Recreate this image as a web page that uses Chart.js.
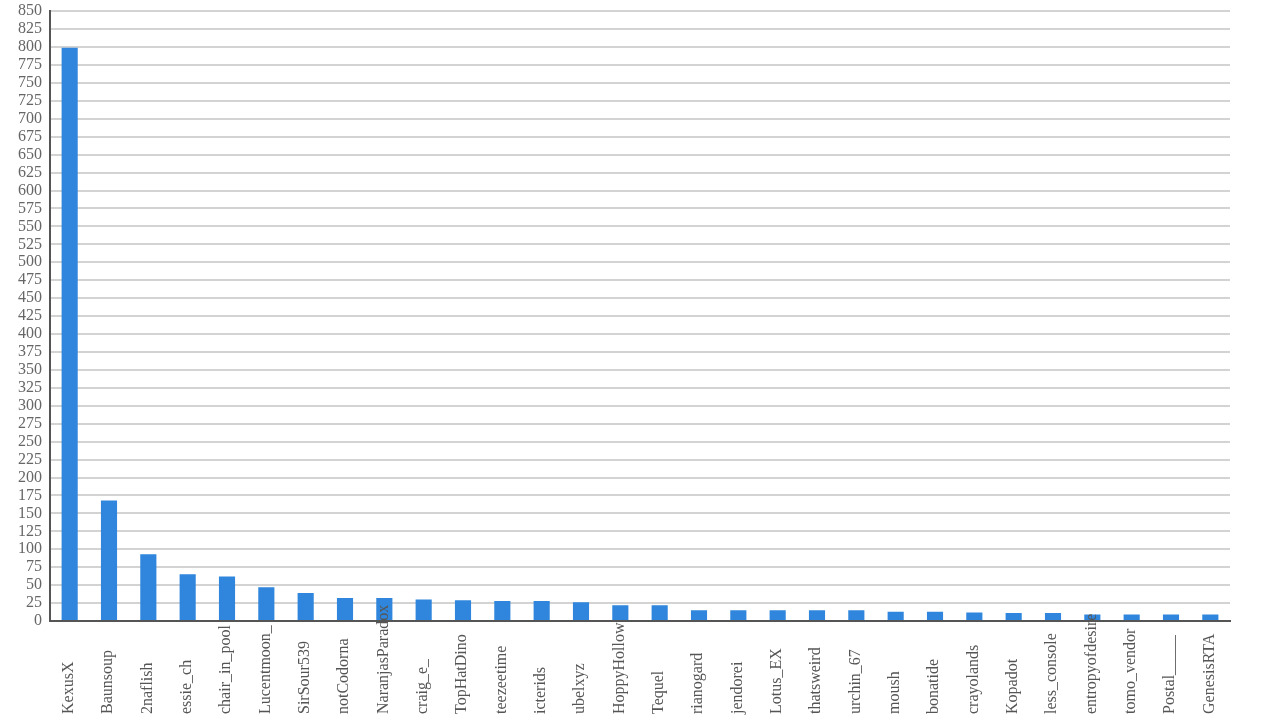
<!DOCTYPE html>
<html>
<head>
<meta charset="utf-8">
<script src="https://cdn.jsdelivr.net/npm/chart.js@4.4.1/dist/chart.umd.min.js"></script>
<style>
  html, body { margin: 0; padding: 0; background: #ffffff; }
  #wrap { width: 1280px; height: 720px; }
</style>
</head>
<body>
<div id="wrap"><canvas id="c" width="1280" height="720"></canvas></div>
<script>
const categories = ["KexusX","Baunsoup","2naflish","essie_ch","chair_in_pool","Lucentmoon_","SirSour539","notCodorna","NaranjasParadox","craig_e_","TopHatDino","teezeetime","icterids","ubelxyz","HoppyHollow","Tequel","rianogard","jendorei","Lotus_EX","thatsweird","urchin_67","moush","bonatide","crayolands","Kopadot","less_console","entropyofdesire","tomo_vendor","Postal_____","GenesisRTA"];
const values = [799,168,93,65,62,47,39,32,32,30,29,28,28,26,22,22,15,15,15,15,15,13,13,12,11,11,9,9,9,9];
const yMin = 0, yMax = 850, yStep = 25;

const FONT = '"Liberation Serif", "Times New Roman", serif';

const bottomLabels = {
  id: 'bottomLabels',
  afterDraw(chart) {
    const ctx = chart.ctx;
    const xs = chart.scales.x;
    ctx.save();
    ctx.font = '16px ' + FONT;
    ctx.fillStyle = '#555555';
    ctx.textAlign = 'left';
    ctx.textBaseline = 'middle';
    chart.data.labels.forEach((lab, i) => {
      const x = xs.getPixelForValue(i) - 1;
      ctx.save();
      ctx.translate(x, 714);
      ctx.rotate(-Math.PI / 2);
      ctx.fillText(lab, 0, 0);
      ctx.restore();
    });
    ctx.restore();
  }
};

new Chart(document.getElementById('c'), {
  type: 'bar',
  data: {
    labels: categories,
    datasets: [{
      data: values,
      backgroundColor: '#2f86dc',
      borderWidth: 0,
      categoryPercentage: 1.0,
      barPercentage: 0.41
    }]
  },
  options: {
    responsive: false,
    animation: false,
    devicePixelRatio: 1,
    layout: { padding: { left: 10, right: 50, top: 2, bottom: 91 } },
    plugins: { legend: { display: false }, tooltip: { enabled: false } },
    scales: {
      x: {
        ticks: { display: false },
        grid: { display: false },
        border: { display: true, color: '#555555', width: 2 }
      },
      y: {
        min: yMin, max: yMax,
        ticks: { stepSize: yStep, autoSkip: false, color: '#666666', padding: 8, font: { family: FONT, size: 16, lineHeight: 0.4 } },
        grid: { color: '#d3d3d3', lineWidth: 2, drawTicks: false },
        border: { display: true, color: '#555555', width: 2 }
      }
    }
  },
  plugins: [bottomLabels]
});
</script>
</body>
</html>
